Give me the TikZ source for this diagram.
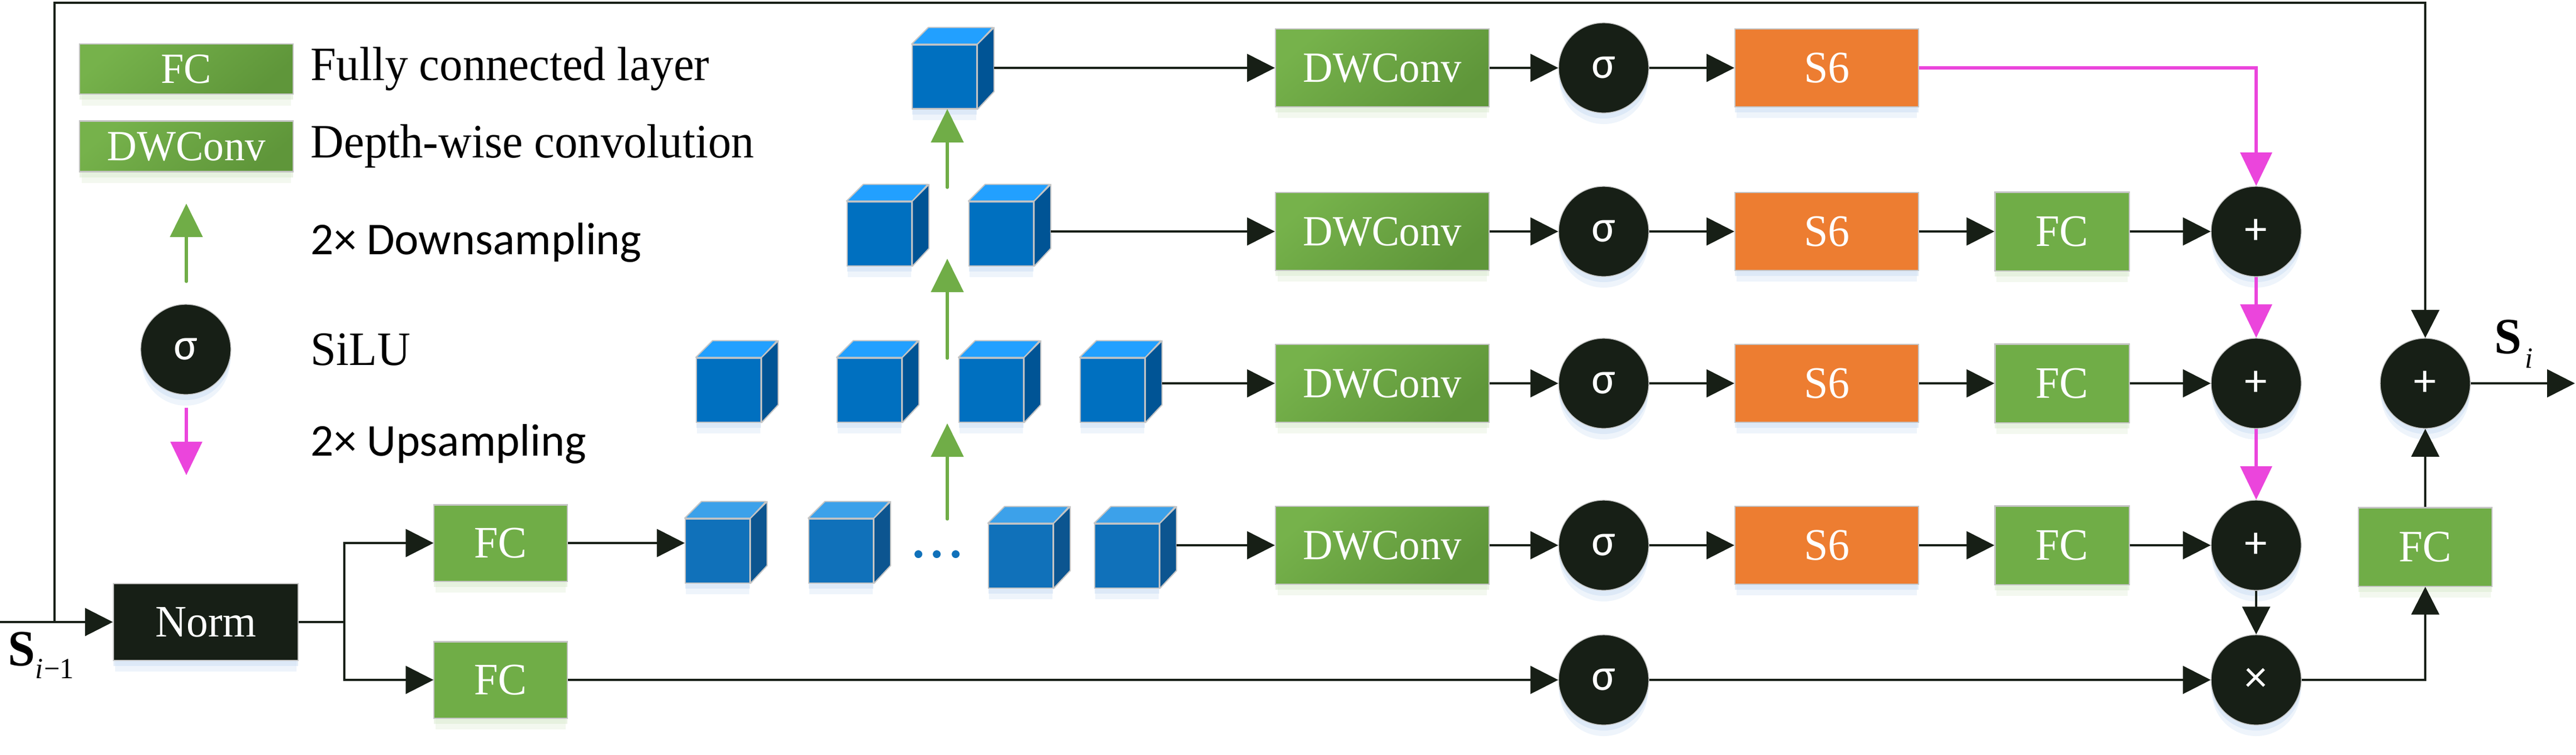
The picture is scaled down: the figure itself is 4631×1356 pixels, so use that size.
\documentclass[tikz,border=0pt]{standalone}
\usepackage{fontspec}
\setmainfont{Liberation Serif}[FakeStretch=0.96]
\newfontfamily\sansf{Carlito}
\usetikzlibrary{arrows.meta,calc,shadows}
\definecolor{gr}{HTML}{70AD47}
\definecolor{grl}{HTML}{76B24B}
\definecolor{grd}{HTML}{5F963A}
\definecolor{og}{HTML}{ED7D31}
\definecolor{dk}{HTML}{171F16}
\definecolor{mg}{HTML}{EB45DC}
\definecolor{cfronta}{HTML}{0070C0}
\definecolor{ctopa}{HTML}{22A0FF}
\definecolor{csidea}{HTML}{005495}
\definecolor{cfrontb}{HTML}{1071BA}
\definecolor{ctopb}{HTML}{3CA1EA}
\definecolor{csideb}{HTML}{0C5590}
\definecolor{cbord}{HTML}{C4C4C4}
\definecolor{shb}{HTML}{CFE0F3}
\definecolor{shg}{HTML}{DCEBD2}
\tikzset{
  softshadow/.style={
    general shadow={shadow yshift=-0.10cm, fill=#1, opacity=0.55},
    general shadow={shadow yshift=-0.22cm, shadow scale=0.98, fill=#1, opacity=0.35}},
}
\newcommand\mycube[4]{%
  \node[draw=cbord, line width=0.6pt, fill=cfront#4, minimum width=1.16cm, minimum height=1.15cm, inner sep=0pt, softshadow=shb] (#1) at (#2,#3) {};
  \filldraw[draw=cbord, line width=0.6pt, fill=ctop#4, line join=round] (#1.north west) -- ++(30,-30) -- ++(116,0) -- (#1.north east) -- cycle;
  \filldraw[draw=cbord, line width=0.6pt, fill=cside#4, line join=round] (#1.north east) -- ++(30,-30) -- ++(0,115) -- (#1.south east) -- cycle;
}
\begin{document}
\begin{tikzpicture}[x=0.01cm,y=-0.01cm,
  box/.style={draw=cbord, line width=0.6pt, text=white, inner sep=0pt, font=\fontsize{23}{23}\selectfont},
  gbox/.style={box, fill=gr, softshadow=shg},
  gsbox/.style={box, top color=grl, bottom color=grd, shading angle=40, softshadow=shg, font=\fontsize{22}{22}\selectfont},
  obox/.style={box, fill=og, softshadow=shb},
  dcirc/.style={circle, fill=dk, draw=cbord, line width=0.4pt, minimum size=1.62cm, inner sep=0pt, text=white, font=\sansf\fontsize{23}{23}\selectfont, softshadow=shb},
  arr/.style={-{Triangle[length=0.5cm,width=0.5cm]}, line width=1pt, draw=dk},
  ln/.style={line width=1pt, draw=dk},
  marr/.style={-{Triangle[length=0.6cm,width=0.56cm]}, line width=1.8pt, draw=mg},
  garr/.style={-{Triangle[length=0.6cm,width=0.58cm]}, line width=1.5pt, draw=gr, line cap=round},
  legtxt/.style={anchor=west, inner sep=0pt, font=\fontsize{24.5}{24.5}\selectfont},
  legsans/.style={anchor=west, inner sep=0pt, font=\sansf\fontsize{23.3}{23.3}\selectfont},
]
\useasboundingbox (0,0) rectangle (4631,1356);

% ---------- legend ----------
\node[gsbox, minimum width=3.84cm, minimum height=0.90cm] (lfc) at (335,124) {FC};
\node[gsbox, minimum width=3.84cm, minimum height=0.91cm] (ldw) at (335,263) {DWConv};
\node[legtxt] (t1) at (558,124) {Fully connected layer};
\node[legtxt] (t2) at (558,263) {Depth-wise convolution};
\coordinate (lga) at (335,506);
\coordinate (lgb) at (335,366);
\draw[garr] (lga) -- (lgb);
\node[legsans] (t3) at (558,436) {2× Downsampling};
\node[dcirc] (lsig) at (334,628) {σ};
\node[legtxt] (t4) at (558,628) {SiLU};
\coordinate (lma) at (335,733);
\coordinate (lmb) at (335,854);
\draw[marr] (lma) -- (lmb);
\node[legsans] (t5) at (558,798) {2× Upsampling};

% ---------- input, norm, branch ----------
\coordinate (in) at (0,1118);
\coordinate (j) at (98,1118);
\coordinate (tl) at (98,5);
\node[anchor=west, inner sep=0pt] (sim1) at (14,1178) {\fontsize{26}{26}\selectfont\bfseries S\raisebox{-0.55ex}{\fontsize{15}{15}\selectfont\mdseries\itshape i\upshape\kern0.03em−1}};
\node[box, fill=dk, minimum width=3.32cm, minimum height=1.38cm, softshadow=shb] (norm) at (370,1118) {Norm};
\draw[arr] (in) -- (norm.west);
\coordinate (br) at (619,1118);
\node[gbox, minimum width=2.39cm, minimum height=1.37cm] (fc1) at (900,976) {FC};
\node[gbox, minimum width=2.39cm, minimum height=1.37cm] (fc2) at (900,1222) {FC};
\draw[ln] (norm.east) -- (br);
\draw[arr] (br) |- (fc1.west);
\draw[arr] (br) |- (fc2.west);

% ---------- cubes ----------
\mycube{c41}{1290}{990}{b}
\mycube{c42}{1512}{990}{b}
\mycube{c43}{1835}{999}{b}
\mycube{c44}{2026}{999}{b}
\fill[cfrontb] (1651,996) circle (7) (1684,996) circle (7) (1718,996) circle (7);
\mycube{c31}{1310}{701}{a}
\mycube{c32}{1563}{701}{a}
\mycube{c33}{1782}{701}{a}
\mycube{c34}{2000}{701}{a}
\mycube{c21}{1581}{420}{a}
\mycube{c22}{1800}{420}{a}
\mycube{c11}{1698}{138}{a}
\coordinate (g3a) at (1703,933);
\coordinate (g3b) at (1703,761);
\coordinate (g2a) at (1703,644);
\coordinate (g2b) at (1703,465);
\coordinate (g1a) at (1703,337);
\coordinate (g1b) at (1703,196);
\draw[garr] (g3a) -- (g3b);
\draw[garr] (g2a) -- (g2b);
\draw[garr] (g1a) -- (g1b);
\draw[arr] (fc1.east) -- (fc1.east -| c41.west);

% ---------- rows ----------
\foreach \r/\y in {1/122,2/416,3/689,4/980}{
  \node[gsbox, minimum width=3.84cm, minimum height=1.40cm] (dw\r) at (2485,\y) {DWConv};
  \node[dcirc] (s\r) at (2883,\y) {σ};
  \node[obox, minimum width=3.30cm, minimum height=1.40cm] (ss\r) at (3284,\y) {S6};
  \draw[arr] (dw\r.east) -- (s\r.west);
  \draw[arr] (s\r.east) -- (ss\r.west);
}
\coordinate (o1) at ($(c11.east)+(30,0)$);
\coordinate (o2) at ($(c22.east)+(30,0)$);
\coordinate (o3) at ($(c34.east)+(30,0)$);
\coordinate (o4) at ($(c44.east)+(30,0)$);
\foreach \r in {1,2,3,4}{ \draw[arr] (o\r |- dw\r.west) -- (dw\r.west); }

\foreach \r/\y in {2/416,3/689,4/980}{
  \node[gbox, minimum width=2.41cm, minimum height=1.41cm] (fr\r) at (3707,\y) {FC};
  \node[dcirc] (p\r) at (4056,\y) {+};
  \draw[arr] (ss\r.east) -- (fr\r.west);
  \draw[arr] (fr\r.east) -- (p\r.west);
}
\node[dcirc] (s5) at (2883,1222) {σ};
\node[dcirc] (mx) at (4056,1222) {×};
\draw[arr] (fc2.east) -- (s5.west);
\draw[arr] (s5.east) -- (mx.west);

\draw[marr] (ss1.east) -| (p2.north);
\draw[marr] (p2.south) -- (p3.north);
\draw[marr] (p3.south) -- (p4.north);
\draw[arr] (p4.south) -- (mx.north);

% ---------- output ----------
\node[dcirc] (pf) at (4360,689) {+};
\node[gbox, minimum width=2.40cm, minimum height=1.41cm] (fo) at (4360,983) {FC};
\draw[arr] (mx.east) -| (fo.south);
\draw[arr] (fo.north) -- (pf.south);
\draw[arr, line join=miter] (j) -- (tl) -| (pf.north);
\coordinate (out) at (4629,689);
\draw[arr] (pf.east) -- (out);
\node[anchor=west, inner sep=0pt] (si) at (4484,618) {\fontsize{26}{26}\selectfont\bfseries S\raisebox{-0.62ex}{\fontsize{15}{15}\selectfont\mdseries\itshape\kern0.12em i}};
\end{tikzpicture}
\end{document}
